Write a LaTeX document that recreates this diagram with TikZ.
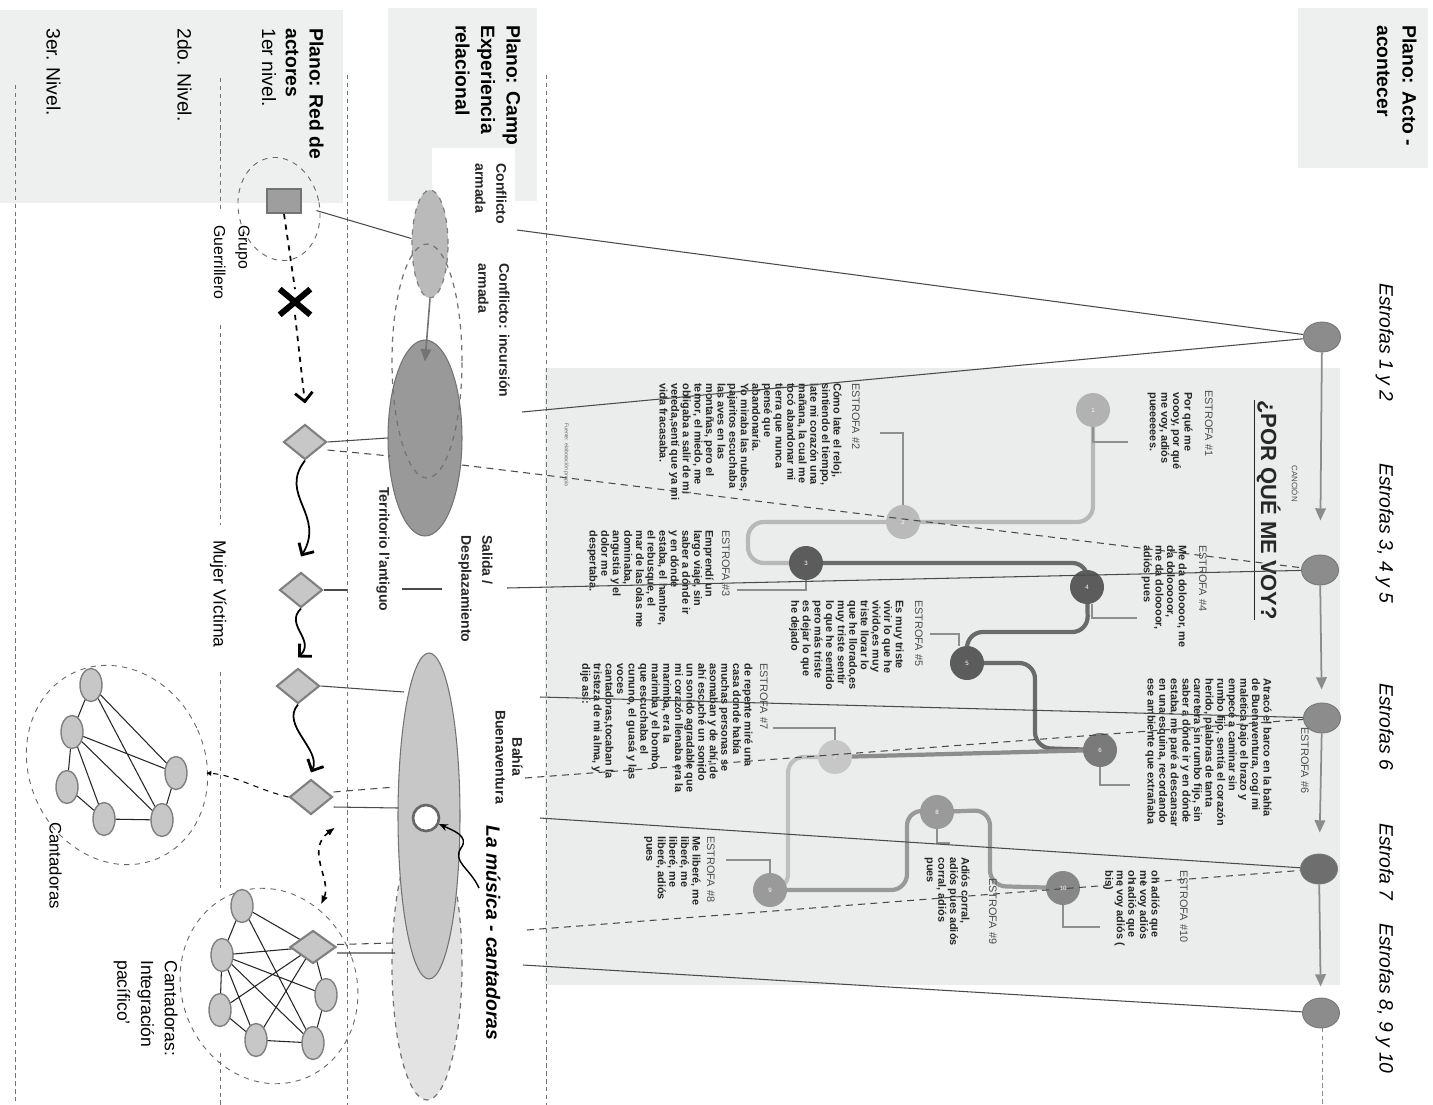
\documentclass[tikz,border=0pt]{standalone}
\usepackage{fontspec}
\setmainfont{Liberation Sans}
\usetikzlibrary{shapes.geometric,arrows.meta}
\pgfdeclarelayer{bgl}
\pgfdeclarelayer{mid}
\pgfsetlayers{bgl,mid,main}
\definecolor{boxg}{HTML}{EEF0F0}
\definecolor{panelg}{HTML}{EBECEC}
\definecolor{tlc}{HTML}{8C8C8C}
\definecolor{tld}{HTML}{6E6E6E}
\definecolor{conc}{HTML}{4A4A4A}
\definecolor{leadc}{HTML}{8E8E8E}
\definecolor{plc}{HTML}{B8B8B8}
\definecolor{pdc}{HTML}{6A6A6A}
\definecolor{pmc}{HTML}{999999}
\definecolor{sdark}{HTML}{5C5C5C}
\definecolor{slight}{HTML}{B2B2B2}
\definecolor{smid}{HTML}{9A9A9A}
\newcommand{\lyrfont}{\fontsize{6.2}{6.6}\selectfont\bfseries}
\newcommand{\hdrfont}{\fontsize{6.2}{6.6}\selectfont}
\begin{document}
\begin{tikzpicture}[x=0.02cm,y=-0.02cm,
  rtxt/.style={rotate=-90, anchor=north west, align=left, inner sep=0pt},
  lyr/.style={rtxt, font=\lyrfont, text=black!85},
  hdr/.style={rtxt, font=\hdrfont, text=black!70},
  est/.style={rtxt, font=\fontsize{11}{13}\selectfont\itshape},
  plano/.style={rtxt, font=\fontsize{11}{14.5}\selectfont\bfseries},
  lab/.style={rtxt, font=\fontsize{8}{12}\selectfont\bfseries, text=black!85},
  tl/.style={ellipse, fill=tlc, draw=tlc!85!black, line width=0.5pt, minimum width=0.74cm, minimum height=0.6cm, inner sep=0pt},
  tlarrow/.style={draw=tlc, line width=1pt, -{Triangle[width=6pt,length=7pt]}},
  sc/.style={circle, minimum size=0.68cm, inner sep=0pt, font=\fontsize{3.5}{4}\selectfont, text=white},
  pth/.style={line width=2.4pt, rounded corners=9pt},
  lead/.style={draw=leadc, line width=0.6pt},
  con/.style={draw=conc, line width=0.6pt},
  cond/.style={con, dash pattern=on 4pt off 3pt},
  vdash/.style={draw=black!55, line width=0.5pt, dash pattern=on 2.5pt off 2pt},
  dm/.style={diamond, fill=black!22, draw=black!50, line width=1.2pt, minimum width=0.86cm, minimum height=0.7cm, inner sep=0pt},
  nd/.style={ellipse, fill=black!22, draw=black!50, line width=0.8pt, minimum width=0.44cm, minimum height=0.66cm, inner sep=0pt},
  edge/.style={draw=black!85, line width=0.6pt},
  wav/.style={draw=black, line width=1pt, -{Straight Barb[length=5pt,width=10pt,line width=1.6pt]}},
  grp/.style={ellipse, draw=black!60, dashed, line width=0.5pt, inner sep=0pt},
]
\useasboundingbox (0,0) rectangle (1433,1105);
\begin{pgfonlayer}{bgl}
\fill[white] (0,0) rectangle (1433,1105);
\fill[boxg] (1298,8) rectangle (1428,168);
\fill[boxg] (388,8) rectangle (537,201);
\fill[white] (432,148) rectangle (515,202);
\fill[boxg] (0,10) rectangle (343,203);
\fill[panelg] (545,368) rectangle (1340,985);
\draw[vdash] (546,75) -- (546,1105);
\draw[vdash] (347,75) -- (347,1105);
\draw[vdash] (220,78) -- (220,210);
\draw[vdash] (220,325) -- (220,525);
\draw[vdash] (220,672) -- (220,888);
\draw[vdash] (220,1053) -- (220,1105);
\draw[vdash] (15,85) -- (15,1105);
\draw[vdash, draw=tlc] (1322,1028) -- (1322,1105);
\end{pgfonlayer}

% ---------- Plano: Acto - acontecer ----------
\node[plano] (pa) at (1417,25) {Plano: Acto -\\acontecer};
\node[est] (le1) at (1394,283) {Estrofas 1 y 2};
\node[est] (le2) at (1394,463) {Estrofas 3, 4 y 5};
\node[est] (le3) at (1394,683) {Estrofas 6};
\node[est] (le4) at (1394,823) {Estrofa 7};
\node[est] (le5) at (1394,923) {Estrofas 8, 9 y 10};

\node[tl] (e1) at (1322,337) {};
\node[tl] (e2) at (1320,570) {};
\node[tl] (e3) at (1322,718) {};
\node[tl, fill=tld] (e4) at (1319,869) {};
\node[tl] (e5) at (1321,1013) {};
\draw[tlarrow, shorten >=0.68cm] (e1) -- (e2);
\draw[tlarrow, shorten >=0.26cm] (e2) -- (e3);
\draw[tlarrow, shorten >=0.42cm] (e3) -- (e4);
\draw[tlarrow, shorten >=0.22cm] (e4) -- (e5);

% ---------- song panel ----------
\node[rtxt, font=\fontsize{4.5}{5}\selectfont, text=black!70] (can) at (1299,465) {CANCIÓN};
\node[rtxt, font=\fontsize{12.5}{14}\selectfont\bfseries, text=black!85] (tit) at (1281,400) {\underline{¿POR QUÉ ME VOY?}};
\node[hdr] (h6) at (1309,727) {ESTROFA \#6};

\node[sc, fill=slight] (s1) at (1093,410) {1};
\node[sc, fill=slight!90!white] (s2) at (903,522) {2};
\node[sc, fill=sdark] (s3) at (806,563) {3};
\node[sc, fill=sdark] (s4) at (1087,587) {4};
\node[sc, fill=sdark] (s5) at (967,663) {5};
\node[sc, fill=black!52] (s6) at (1100,750) {6};
\node[sc, fill=black!22] (s7) at (835,757) {7};
\node[sc, fill=smid] (s8) at (937,812) {8};
\node[sc, fill=smid] (s9) at (770,890) {9};
\node[sc, fill=black!47] (s10) at (1063,888) {10};

\begin{pgfonlayer}{mid}
\draw[pth, draw=plc] (s1.center) -- (1093,522) -- (748,522) -- (748,563) -- (s3.center);
\draw[pth, draw=pdc] (s3.center) -- (1088,563) -- (s4.center);
\draw[pth, draw=pdc] (s4.center) -- (1088,632) -- (967,632) -- (s5.center);
\draw[pth, draw=pdc] (s5.center) -- (1035,663) -- (1035,748) -- (s6.center);
\draw[pth, draw=black!45] (s6.center) -- (s7.center);
\draw[pth, draw=black!25] (s7.center) -- (788,757) -- (788,890) -- (s9.center);
\draw[pth, draw=pmc] (s9.center) -- (907,890) -- (907,810) -- (s8.center);
\draw[pth, draw=pmc] (s8.center) -- (990,810) -- (990,886) -- (s10.center);
\draw[lead] (s1.south) |- (1128,442);
\draw[lead] (s2.north) |- (880,433);
\draw[lead] (s3.south) |- (737,590);
\draw[lead] ([xshift=0.1cm]s4.south) |- (1137,618);
\draw[lead] ([xshift=-0.16cm]s5.north) |- (930,634);
\draw[lead] (s6.south) |- (1130,785);
\draw[lead] (s7.north) |- (773,728);
\draw[lead] (s8.south) |- (950,843);
\draw[lead] (s9.north) |- (726,860);
\draw[lead] (s10.south) |- (1100,927);
\end{pgfonlayer}

\node[hdr] (h1) at (1213,390) {ESTROFA \#1};
\node[lyr] (t1) at (1193,392) {Por qué me\\voooy, por qué\\me voy, adiós\\pueeeeees.};
\node[hdr] (h4) at (1207,545) {ESTROFA \#4};
\node[lyr] (t4) at (1187,545) {Me da doloooor, me\\da dolooooor,\\me da doloooor,\\adiós pues};
\node[lyr] (t6) at (1272,678) {Atracó el barco en la bahía\\de Buenaventura, cogí mi\\maletica bajo el brazo y\\empecé a caminar sin\\rumbo fijo, sentía el corazón\\herido, palabras de tanta\\carretera sin rumbo fijo, sin\\saber a dónde ir y en dónde\\estaba, me paré a descansar\\en una esquina, recordando\\ese ambiente que extrañaba};
\node[hdr] (h10) at (1188,870) {ESTROFA \#10};
\node[lyr] (t10) at (1160,870) {oh adiós que\\me voy adiós\\oh adiós que\\me voy adiós (\\bis)};
\node[hdr] (h9) at (997,878) {ESTROFA \#9};
\node[lyr] (t9) at (970,857) {Adiós corral,\\adiós pues adiós\\corral, adiós\\pues};
\node[hdr] (h8) at (715,836) {ESTROFA \#8};
\node[lyr] (t8) at (701,836) {Me liberé, me\\liberé, me\\liberé, me\\liberé, adiós\\pues};
\node[hdr] (h5) at (923,600) {ESTROFA \#5};
\node[lyr] (t5) at (904,600) {Es muy triste\\vivir lo que he\\vivido,es muy\\triste llorar lo\\que he llorado,es\\muy triste sentir\\lo que he sentido\\pero más triste\\es dejar lo que\\he dejado};
\node[hdr] (h2) at (860,383) {ESTROFA \#2};
\node[lyr] (t2) at (842,383) {Cómo late el reloj,\\sintiendo el tiempo,\\late mi corazón una\\mañana, la cual me\\tocó abandonar mi\\tierra que nunca\\pensé que\\abandonaría.\\Yo miraba las nubes,\\pajaritos escuchaba\\las aves en las\\montañas, pero el\\temor, el miedo, me\\obligaba a salir de mi\\vereda,sentí que ya mi\\vida fracasaba.};
\node[hdr] (h3) at (730,530) {ESTROFA \#3};
\node[lyr] (t3) at (714,530) {Emprendí un\\largo viaje, sin\\saber a dónde ir\\y en dónde\\estaba, el hambre,\\el rebusque, el\\mar de las olas me\\dominaba,\\angustia y el\\dolor me\\despertaba.};
\node[hdr] (h7) at (768,663) {ESTROFA \#7};
\node[lyr] (t7) at (753,663) {de repente miré una\\casa donde había\\muchas personas se\\asomaban y de ahí, de\\ahí escuché un sonido\\un sonido agradable que\\mi corazón llenaba era la\\marimba, era la\\marimba y el bombo\\que escuchaba el\\cununo, el guasá y las\\voces\\cantadoras,tocaban la\\tristeza de mi alma, y\\dije así:};
\node[rtxt, font=\fontsize{3}{3.5}\selectfont, text=black!60] (src) at (569,423) {Fuente: elaboración propia};

% ---------- Plano: Camp Experiencia relacional ----------
\node[plano] (pc) at (521,25) {Plano: Camp\\Experiencia\\relacional};
\node[lab] (lca1) at (507,163) {Conflicto\\armada};
\node[lab] (lca2) at (510,263) {Conflicto: incursión\\armada};
\node[lab] (lter) at (390,487) {Territorio l'antiguo};
\node[lab] (lsal) at (493,535) {Salida /\\Desplazamiento};
\node[rtxt, anchor=north, align=center, font=\fontsize{8}{9.5}\selectfont\bfseries, text=black!85] (lbah) at (523,757) {Bahía\\Buenaventura};
\node[rtxt, font=\fontsize{11}{13}\selectfont\bfseries\itshape] (lmus) at (501,825) {La música - cantadoras};

\node[ellipse, fill=black!27, draw=black!50, dashed, line width=0.7pt, minimum width=0.72cm, minimum height=2.16cm, inner sep=0pt] (sell) at (430,244) {};
\node[ellipse, fill=black!40, draw=black!55, line width=0.6pt, minimum width=1.48cm, minimum height=3.92cm, inner sep=0pt] (bell) at (425,438) {};
\node[ellipse, draw=black!55, dashed, line width=0.7pt, minimum width=1.4cm, minimum height=4.68cm, inner sep=0pt] (dell) at (427,361) {};
\draw[draw=black!55, line width=0.9pt, -{Triangle[width=6pt,length=7pt]}, fill=black!55] (sell.south) -- ([yshift=-0.44cm]bell.north);

\node[ellipse, fill=black!11, draw=black!55, dashed, line width=0.7pt, minimum width=1.4cm, minimum height=5.4cm, inner sep=0pt] (lell) at (427,965) {};
\node[ellipse, fill=black!22, draw=black!55, line width=0.6pt, minimum width=1.24cm, minimum height=6.52cm, inner sep=0pt] (mell) at (429,816) {};
\node[circle, fill=white, draw=black!60, line width=1.5pt, minimum size=0.52cm, inner sep=0pt] (wc) at (426,818) {};
\draw[line width=0.8pt, -{Stealth[length=5pt,width=4pt]}] (479,888) .. controls (470,868) and (452,862) .. (461,848) .. controls (470,836) and (452,830) .. (wc);

% ---------- Plano: Red de actores ----------
\node[rtxt, font=\fontsize{11}{13.5}\selectfont] (pr) at (324,28) {\textbf{Plano: Red de}\\\textbf{actores}\\1er nivel.};
\node[rtxt, font=\fontsize{11}{13}\selectfont] (n2l) at (192,28) {2do. Nivel.};
\node[rtxt, font=\fontsize{11}{13}\selectfont] (n3l) at (61,28) {3er. Nivel.};
\node[rtxt, font=\fontsize{9}{14}\selectfont] (lgg) at (250,225) {Grupo\\Guerrillero};
\node[rtxt, font=\fontsize{10}{12}\selectfont] (lmv) at (227,540) {Mujer Víctima};

\node[rectangle, fill=black!38, draw=black!55, line width=1.2pt, minimum width=0.68cm, minimum height=0.48cm, inner sep=0pt] (sq) at (284,201) {};
\node[grp, minimum width=1.62cm, minimum height=2.08cm, rotate=12] (geli) at (279,209) {};
\node[minimum width=0.6cm, minimum height=0.5cm, inner sep=0pt] (xm) at (295,302) {};
\draw[line width=3.4pt] (xm.north west) -- (xm.south east) (xm.north east) -- (xm.south west);
\draw[dashed, line width=1pt] (sq.south) -- (xm.north);

\node[dm] (d1) at (305,442) {};
\node[dm] (d2) at (301,590) {};
\node[dm] (d3) at (298,686) {};
\node[dm] (d4) at (311,797) {};
\draw[dashed, line width=1pt, -{Straight Barb[length=5pt,width=10pt,line width=1.6pt]}] (xm.south) -- ([yshift=0.4cm]d1.north);
\draw[wav] (d1.south) .. controls (278,495) and (326,515) .. ([yshift=0.3cm]d2.north);
\draw[wav] (d2.south) .. controls (284,625) and (316,640) .. ([yshift=0.2cm]d3.north);
\draw[wav] (d3.south) .. controls (280,725) and (322,750) .. ([yshift=0.12cm]d4.north);

% network 1 (Cantadoras)
\node[grp, minimum width=3.52cm, minimum height=4.08cm, rotate=25] (net1) at (117,765) {};
\node[nd] (a1) at (91,685) {};
\node[nd] (a2) at (72,732) {};
\node[nd] (a3) at (67,787) {};
\node[nd] (a4) at (104,819) {};
\node[nd] (a5) at (162,820) {};
\node[nd] (a6) at (176,773) {};
\draw[edge] (a1) -- (a2) (a2) -- (a3) (a3) -- (a4) (a4) -- (a5) (a5) -- (a6)
  (a1) -- (a6) (a1) -- (a5) (a2) -- (a6) (a2) -- (a5) (a2) -- (a4);
\node[rtxt, font=\fontsize{9.5}{11}\selectfont] (lc1) at (62,822) {Cantadoras};

% network 2 (Cantadoras: integracion)
\node[grp, minimum width=3.5cm, minimum height=3.96cm, rotate=20] (net2) at (269,986) {};
\node[nd] (b1) at (242,906) {};
\node[nd] (b2) at (222,955) {};
\node[nd] (b3) at (220,1010) {};
\node[nd] (b4) at (256,1040) {};
\node[nd] (b5) at (313,1043) {};
\node[nd] (b6) at (326,995) {};
\begin{pgfonlayer}{mid}
\draw[edge] (b1.center) -- (b2.center) (b2.center) -- (b3.center) (b3.center) -- (b4.center) (b4.center) -- (b5.center) (b5.center) -- (b6.center)
  (b1.center) -- (313,947) (b2.center) -- (313,947) (b3.center) -- (313,947) (b4.center) -- (313,947) (b6.center) -- (313,947)
  (b1.center) -- (b5.center) (b2.center) -- (b6.center) (b2.center) -- (b4.center) (b2.center) -- (b5.center);
\end{pgfonlayer}
\node[dm, minimum width=0.92cm, minimum height=0.66cm] (dn) at (313,947) {};
\node[rtxt, font=\fontsize{10}{13.5}\selectfont] (lc2) at (178,960) {Cantadoras:\\Integración\\pacífico’};

\draw[dashed, line width=0.9pt, {Latex[length=5pt,width=4pt]}-{Latex[length=5pt,width=4pt]}] ([xshift=0.48cm,yshift=-0.24cm]d4.south) .. controls (305,850) and (332,880) .. ([xshift=0.16cm,yshift=0.5cm]dn.north);
\coordinate (n1e) at (206,773);
\draw[dashed, line width=0.6pt, -{Latex[length=3pt,width=3pt]}] (d4.west) .. controls (258,790) and (235,775) .. (n1e);

% ---------- connectors between planes ----------
\coordinate (ca1) at (517,230);
\coordinate (ca2) at (522,412);
\draw[con] (ca1) -- (e1);
\draw[con] (ca2) -- (e1);
\draw[con, shorten <=0.3cm] (sq) -- (sell);
\draw[con] (d1.east) -- (bell.west);
\coordinate (k0) at (390,456);
\coordinate (k1) at (462,465);
\draw[cond] ([yshift=-0.16cm]d1.east) -- (k0);
\draw[cond] (k1) -- (e2);
\coordinate (b2a) at (347,590);
\coordinate (b2b) at (402,589);
\coordinate (b2c) at (442,589);
\coordinate (b2d) at (507,588);
\draw[con] (d2.east) -- (b2a);
\draw[con] (b2b) -- (b2c);
\draw[con] (b2d) -- (e2);
\coordinate (b3a) at (404,692);
\coordinate (b3b) at (540,697);
\draw[con] (d3.east) -- (b3a);
\draw[con] (b3b) -- (e3);
\coordinate (b4a) at (395,787);
\coordinate (b4b) at (525,778);
\draw[cond] ([yshift=0.1cm]d4.east) -- (b4a);
\draw[cond] (b4b) -- (e3);
\coordinate (b5a) at (398,808);
\coordinate (b5b) at (540,818);
\draw[con] ([yshift=-0.2cm]d4.east) -- (b5a);
\draw[con] (b5b) -- (e4);
\coordinate (b6a) at (393,943);
\coordinate (b6b) at (527,930);
\draw[cond] ([yshift=0.05cm]dn.east) -- (b6a);
\draw[cond] (b6b) -- (e4);
\coordinate (b7a) at (395,953);
\coordinate (b7b) at (523,965);
\draw[con] ([yshift=-0.12cm]dn.east) -- (b7a);
\draw[con] (b7b) -- (e5);
\end{tikzpicture}
\end{document}
